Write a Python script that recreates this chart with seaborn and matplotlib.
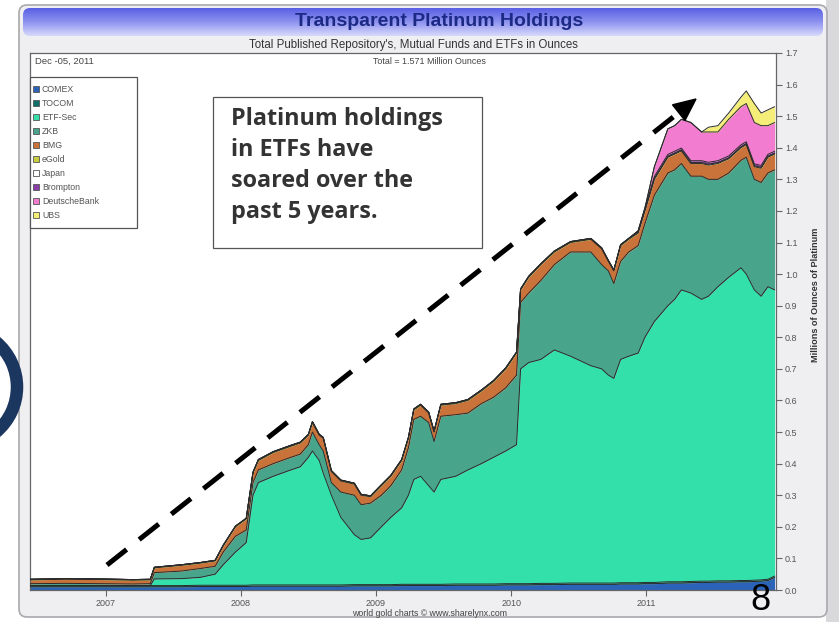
import numpy as np
import matplotlib
matplotlib.use("Agg")
import matplotlib.pyplot as plt
import seaborn as sns
import pandas as pd
from matplotlib.patches import FancyBboxPatch, Rectangle, Arc, Polygon

# ---------------- data (millions of ounces, layer thickness) ----------------
years = [2006.44, 2006.70, 2006.96, 2007.20, 2007.33, 2007.36, 2007.56, 2007.70, 2007.81, 2007.87,
         2007.96, 2008.04, 2008.09, 2008.13, 2008.24, 2008.37, 2008.44, 2008.50, 2008.53, 2008.58,
         2008.61, 2008.67, 2008.74, 2008.84, 2008.89, 2008.96, 2009.04, 2009.11, 2009.19, 2009.24,
         2009.28, 2009.33, 2009.39, 2009.43, 2009.48, 2009.59, 2009.68, 2009.78, 2009.87, 2009.96,
         2010.04, 2010.07, 2010.13, 2010.22, 2010.32, 2010.44, 2010.59, 2010.67, 2010.72, 2010.76,
         2010.81, 2010.87, 2010.94, 2010.99, 2011.06, 2011.16, 2011.21, 2011.26, 2011.33, 2011.41,
         2011.46, 2011.53, 2011.61, 2011.70, 2011.74, 2011.80, 2011.85, 2011.90, 2011.95]

comex = [.010, .010, .010, .010, .010, .010, .010, .011, .011, .011,
         .011, .011, .012, .012, .012, .012, .012, .012, .012, .012,
         .012, .012, .012, .013, .013, .013, .013, .013, .014, .014,
         .014, .014, .014, .014, .014, .015, .015, .015, .015, .016,
         .016, .016, .016, .017, .017, .018, .018, .018, .018, .018,
         .019, .019, .019, .020, .020, .022, .022, .022, .023, .024,
         .024, .025, .025, .026, .026, .027, .028, .030, .040]

tocom = [.004, .004, .004, .004, .004, .004, .004, .004, .004, .004,
         .004, .004, .004, .004, .004, .004, .004, .004, .004, .004,
         .004, .004, .004, .004, .004, .004, .004, .004, .004, .004,
         .004, .004, .004, .004, .004, .004, .004, .004, .004, .004,
         .004, .004, .004, .004, .004, .004, .004, .004, .004, .004,
         .004, .004, .004, .004, .004, .004, .004, .004, .004, .004,
         .004, .004, .004, .004, .004, .004, .004, .004, .004]

etf_sec = [0, 0, 0, 0, 0, .021, .022, .025, .035, .065,
           .105, .135, .284, .324, .344, .364, .374, .404, .424, .394,
           .354, .284, .214, .158, .143, .148, .183, .213, .242, .282,
           .332, .342, .312, .292, .332, .341, .361, .381, .401, .420,
           .440, .680, .700, .709, .739, .718, .688, .678, .658, .648,
           .707, .717, .727, .776, .826, .874, .894, .924, .913, .892,
           .902, .931, .961, .990, .970, .919, .898, .926, .906]

zkb = [.006, .007, .006, .005, .006, .020, .024, .028, .025, .040,
       .050, .040, .040, .040, .040, .040, .040, .040, .060, .050,
       .070, .040, .080, .125, .110, .110, .100, .100, .120, .150,
       .190, .190, .200, .160, .200, .195, .180, .190, .190, .200,
       .220, .210, .220, .250, .270, .330, .360, .330, .330, .300,
       .310, .330, .340, .360, .400, .420, .410, .400, .370, .390,
       .370, .340, .330, .340, .370, .350, .360, .360, .380]

bmg = [.012, .013, .013, .012, .012, .015, .018, .017, .017, .020,
       .030, .035, .030, .030, .035, .035, .035, .030, .030, .030,
       .040, .035, .035, .035, .030, .020, .030, .030, .030, .030,
       .030, .035, .030, .030, .035, .035, .040, .040, .050, .060,
       .070, .040, .050, .050, .040, .030, .040, .050, .030, .040,
       .050, .040, .040, .040, .050, .050, .050, .040, .040, .040,
       .045, .050, .045, .040, .040, .040, .045, .050, .050]

egold = [.002, .002, .002, .002, .002, .002, .002, .002, .002, .002,
         .002, .002, .003, .003, .003, .003, .003, .003, .003, .003,
         .003, .003, .003, .003, .003, .003, .003, .003, .003, .003,
         .003, .003, .003, .003, .003, .003, .003, .003, .003, .003,
         .003, .003, .003, .003, .003, .003, .003, .003, .003, .003,
         .003, .003, .003, .003, .003, .003, .003, .003, .003, .003,
         .003, .003, .003, .003, .003, .003, .003, .003, .003]

japan = [0] * 69

brompton = [0, 0, 0, 0, 0, 0, 0, 0, 0, 0,
            0, 0, 0, 0, 0, 0, 0, 0, 0, 0,
            0, 0, 0, 0, 0, 0, 0, 0, 0, 0,
            0, 0, 0, 0, 0, 0, 0, 0, 0, 0,
            0, 0, 0, 0, 0, 0, 0, 0, 0, 0,
            0, 0, .004, .006, .006, .006, .006, .006, .006, .006,
            .006, .006, .006, .006, .006, .006, .006, .006, .006]

deutsche = [0, 0, 0, 0, 0, 0, 0, 0, 0, 0,
            0, 0, 0, 0, 0, 0, 0, 0, 0, 0,
            0, 0, 0, 0, 0, 0, 0, 0, 0, 0,
            0, 0, 0, 0, 0, 0, 0, 0, 0, 0,
            0, 0, 0, 0, 0, 0, 0, 0, 0, 0,
            0, 0, 0, 0, .031, .081, .081, .091, .121, .091,
            .096, .091, .116, .121, .121, .131, .126, .091, .091]

ubs = [0, 0, 0, 0, 0, 0, 0, 0, 0, 0,
       0, 0, 0, 0, 0, 0, 0, 0, 0, 0,
       0, 0, 0, 0, 0, 0, 0, 0, 0, 0,
       0, 0, 0, 0, 0, 0, 0, 0, 0, 0,
       0, 0, 0, 0, 0, 0, 0, 0, 0, 0,
       0, 0, 0, 0, 0, 0, 0, 0, 0, 0,
       .015, .020, .020, .030, .040, .060, .040, .050, .050]

series_names = ["COMEX", "TOCOM", "ETF-Sec", "ZKB", "BMG", "eGold", "Japan",
                "Brompton", "DeutscheBank", "UBS"]
series_vals = [comex, tocom, etf_sec, zkb, bmg, egold, japan, brompton, deutsche, ubs]
series_colors = ["#2a63b8", "#0d6e6a", "#33e0aa", "#48a58c", "#c9733a", "#c8cf3c",
                 "#ffffff", "#8a3fa8", "#f27ccf", "#f4ee78"]

year_ticks = [2007, 2008, 2009, 2010, 2011]
year_labels = ["2007", "2008", "2009", "2010", "2011"]
y_ticks = [0.0, 0.1, 0.2, 0.3, 0.4, 0.5, 0.6, 0.7, 0.8, 0.9, 1.0, 1.1, 1.2, 1.3, 1.4, 1.5, 1.6, 1.7]

title = "Transparent Platinum Holdings"
subtitle = "Total Published Repository's, Mutual Funds and ETFs in Ounces"
total_text = "Total = 1.571 Million Ounces"
date_text = "Dec -05, 2011"
ylabel = "Millions of Ounces of Platinum"
credit = "world gold charts \u00a9 www.sharelynx.com"
callout = "Platinum holdings\nin ETFs have\nsoared over the\npast 5 years."

# ---------------- figure ----------------
sns.set_theme(style="white")
sans = ["Liberation Sans", "DejaVu Sans"]
plt.rcParams["font.family"] = sans

W, H = 839, 622
fig = plt.figure(figsize=(W / 100, H / 100), dpi=100)
fig.patch.set_facecolor("white")

def fx(px):
    return px / W

def fy(py):
    return 1 - py / H

# background axes in pixel coordinates
bg = fig.add_axes([0, 0, 1, 1], zorder=0)
bg.set_xlim(0, W)
bg.set_ylim(H, 0)
bg.axis("off")

bg.add_patch(Rectangle((826, 0), 13, H, facecolor="#d9d9dc", edgecolor="none"))
bg.add_patch(FancyBboxPatch((19, 5), 808, 612, boxstyle="round,pad=0,rounding_size=8",
                            facecolor="#efeff2", edgecolor="#a9a9ad", lw=1.2))
bar = FancyBboxPatch((23, 8), 800, 28, boxstyle="round,pad=0,rounding_size=7",
                     facecolor="none", edgecolor="none")
bg.add_patch(bar)
grad = np.linspace(0, 1, 64).reshape(-1, 1)
cmap = matplotlib.colors.LinearSegmentedColormap.from_list("tb", ["#5a60e4", "#8e93ef", "#d7d9fb"])
im = bg.imshow(grad, extent=(23, 823, 36, 8), cmap=cmap, aspect="auto", zorder=1)
im.set_clip_path(bar)
bg.text(439, 21, title, ha="center", va="center", fontsize=14, fontweight="bold",
        color="#1c2a86", family=sans, zorder=2)
bg.text(413, 45, subtitle, ha="center", va="center", fontsize=8.3, color="#333333",
        family=sans, zorder=2)
bg.add_patch(Arc((-42, 387), 118, 118, theta1=-50, theta2=50, lw=9, color="#1b365f",
                 capstyle="round", zorder=2))

# ---------------- plot axes ----------------
L, R, T, B = 30, 776, 53, 590
ax = fig.add_axes([fx(L), fy(B), fx(R - L), (B - T) / H], zorder=1)
ax.set_facecolor("white")

df = pd.DataFrame({"year": years})
base = np.zeros(len(years))
for name, vals, col in zip(series_names, series_vals, series_colors):
    top = base + np.asarray(vals, dtype=float)
    if np.any(np.asarray(vals) > 0):
        ax.fill_between(years, base, top, color=col, lw=0, zorder=2)
        df[name] = top
        sns.lineplot(data=df, x="year", y=name, ax=ax, color="#2b2b2b", lw=0.7, zorder=3)
    base = top

ax.set_xlim(2006.44, 2011.96)
ax.set_ylim(0, 1.7)
ax.set_xlabel("")
ax.set_ylabel("")
ax.yaxis.tick_right()
ax.set_yticks(y_ticks)
ax.set_yticklabels([f"{v:.1f}" for v in y_ticks])
ax.set_xticks(year_ticks)
ax.set_xticklabels(year_labels)
ax.tick_params(axis="both", which="both", length=4, width=0.8, color="#666666",
               labelsize=6.5, labelcolor="#555555", direction="out", pad=2.5)
ax.tick_params(axis="y", right=True, left=False)
ax.tick_params(axis="x", bottom=True)
for s in ax.spines.values():
    s.set_color("#666666")
    s.set_linewidth(0.9)

ax.text(0.007, 0.993, date_text, transform=ax.transAxes, ha="left", va="top",
        fontsize=6.8, color="#444444")
ax.text(0.536, 0.993, total_text, transform=ax.transAxes, ha="center", va="top",
        fontsize=6.4, color="#444444")

# ---------------- overlay ----------------
ov = fig.add_axes([0, 0, 1, 1], zorder=3)
ov.set_xlim(0, W)
ov.set_ylim(H, 0)
ov.axis("off")
ov.patch.set_alpha(0)

# legend (drawn as a boxed key)
ov.add_patch(Rectangle((30, 77), 107, 151, facecolor="white", edgecolor="#555555", lw=0.9))
for i, (name, col) in enumerate(zip(series_names, series_colors)):
    yy = 89 + i * 14
    ov.add_patch(Rectangle((33, yy - 3), 6, 6, facecolor=col, edgecolor="#555555", lw=0.6))
    ov.text(42, yy, name, ha="left", va="center", fontsize=6.3, color="#555555")

ov.text(816, 295, ylabel, rotation=90, ha="center", va="center", fontsize=6.6,
        fontweight="bold", color="#333333")
ov.text(430, 614, credit, ha="center", va="center", fontsize=6.3, color="#444444")
ov.text(760, 601, "8", ha="center", va="center", fontsize=26, color="black")

# callout box
ov.add_patch(Rectangle((213, 97), 269, 151, facecolor="white", edgecolor="#555555", lw=0.9))
ov.text(231, 107, callout, ha="left", va="top", fontsize=16.8, fontweight="bold",
        color="#333333", family=["Open Sans", "DejaVu Sans"], linespacing=1.38)

# dashed arrow
x0, y0, x1, y1 = 107, 565, 696, 99
d = np.array([x1 - x0, y1 - y0], dtype=float)
u = d / np.hypot(*d)
n = np.array([-u[1], u[0]])
hl, hw = 22, 10
tip = np.array([x1, y1], dtype=float)
basept = tip - u * hl
ov.plot([x0, basept[0] + u[0] * 2], [y0, basept[1] + u[1] * 2], color="black", lw=3.6,
        linestyle=(0, (5, 3.2)), solid_capstyle="butt", dash_capstyle="butt")
ov.add_patch(Polygon([tip, basept + n * hw, basept - n * hw], closed=True,
                     facecolor="black", edgecolor="black"))

fig.savefig("out.png", dpi=100)
